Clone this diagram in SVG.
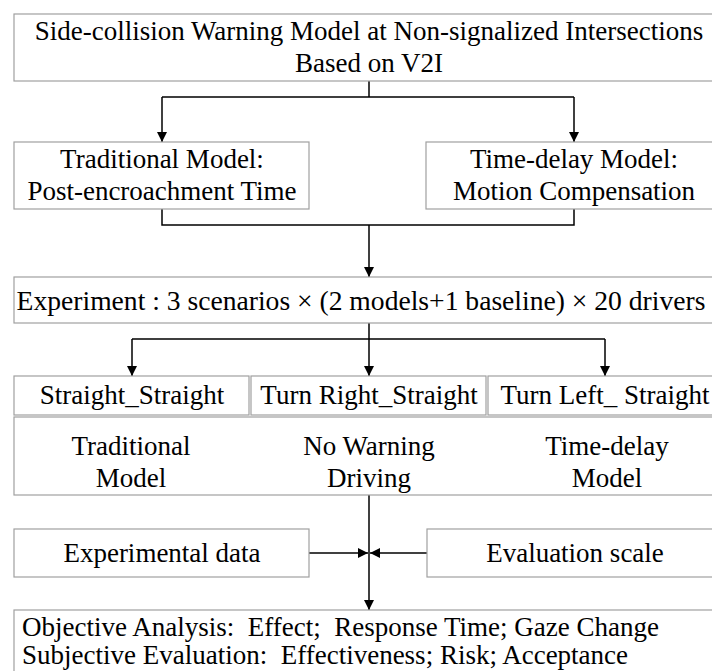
<svg xmlns="http://www.w3.org/2000/svg" width="712" height="671" viewBox="0 0 712 671">
<style>
.box{fill:#fff;stroke:#a0a0a0;stroke-width:1.2}
.t{font-family:"Liberation Serif","Times New Roman",serif;font-size:27px;fill:#000;text-anchor:middle}
.tl{font-family:"Liberation Serif","Times New Roman",serif;font-size:27px;fill:#000;white-space:pre}
.c{fill:none;stroke:#000;stroke-width:1.5}
</style>
<defs>
<marker id="ah" viewBox="0 0 10 10" refX="10" refY="5" markerWidth="10" markerHeight="10" markerUnits="userSpaceOnUse" orient="auto">
<path d="M0,0 L10,5 L0,10 z" fill="#000"/>
</marker>
</defs>
<rect width="712" height="671" fill="#fff"/>
<g id="connectors">
<path class="c" d="M369,81 V97 M162,97 H574"/>
<path class="c" d="M162,97 V142" marker-end="url(#ah)"/>
<path class="c" d="M574,97 V142" marker-end="url(#ah)"/>
<path class="c" d="M162,209 V225 H574 V209"/>
<path class="c" d="M369,225 V277" marker-end="url(#ah)"/>
<path class="c" d="M369,323 V339 M132,339 H605"/>
<path class="c" d="M132,339 V376" marker-end="url(#ah)"/>
<path class="c" d="M369,339 V376" marker-end="url(#ah)"/>
<path class="c" d="M605,339 V376" marker-end="url(#ah)"/>
<path class="c" d="M369,495 V610" marker-end="url(#ah)"/>
<path class="c" d="M309,553 H368" marker-end="url(#ah)"/>
<path class="c" d="M427,553 H370" marker-end="url(#ah)"/>
</g>
<g id="title">
<rect class="box" x="14" y="14" width="710" height="67"/>
<text class="t" x="369" y="40">Side-collision Warning Model at Non-signalized Intersections</text>
<text class="t" x="369" y="72">Based on V2I</text>
</g>
<g id="traditional">
<rect class="box" x="14" y="142" width="295" height="67"/>
<text class="t" x="162" y="168">Traditional Model:</text>
<text class="t" x="162" y="200">Post-encroachment Time</text>
</g>
<g id="timedelay">
<rect class="box" x="426" y="142" width="298" height="67"/>
<text class="t" x="574" y="168">Time-delay Model:</text>
<text class="t" x="574" y="200">Motion Compensation</text>
</g>
<g id="experiment">
<rect class="box" x="14" y="277" width="710" height="46"/>
<text class="t" x="361" y="310" style="font-size:27.6px">Experiment : 3 scenarios × (2 models+1 baseline) × 20 drivers</text>
</g>
<g id="scenario1">
<rect class="box" x="14" y="376" width="235" height="39"/>
<text class="t" x="132" y="404">Straight_Straight</text>
</g>
<g id="scenario2">
<rect class="box" x="251" y="376" width="235" height="39"/>
<text class="t" x="369" y="404">Turn Right_Straight</text>
</g>
<g id="scenario3">
<rect class="box" x="488" y="376" width="236" height="39"/>
<text class="t" x="605" y="404">Turn Left_ Straight</text>
</g>
<g id="conditions">
<rect class="box" x="14" y="417" width="710" height="78"/>
<text class="t" x="131" y="455">Traditional</text>
<text class="t" x="131" y="487">Model</text>
<text class="t" x="369" y="455">No Warning</text>
<text class="t" x="369" y="487">Driving</text>
<text class="t" x="607" y="455">Time-delay</text>
<text class="t" x="607" y="487">Model</text>
</g>
<g id="expdata">
<rect class="box" x="14" y="529" width="295" height="48"/>
<text class="t" x="162" y="562">Experimental data</text>
</g>
<g id="evalscale">
<rect class="box" x="427" y="529" width="297" height="48"/>
<text class="t" x="575" y="562">Evaluation scale</text>
</g>
<g id="analysis">
<rect class="box" x="14" y="610" width="710" height="70"/>
<text class="tl" x="22" y="636" xml:space="preserve">Objective Analysis:  Effect;  Response Time; Gaze Change</text>
<text class="tl" x="22" y="664" xml:space="preserve">Subjective Evaluation:  Effectiveness; Risk; Acceptance</text>
</g>
</svg>
